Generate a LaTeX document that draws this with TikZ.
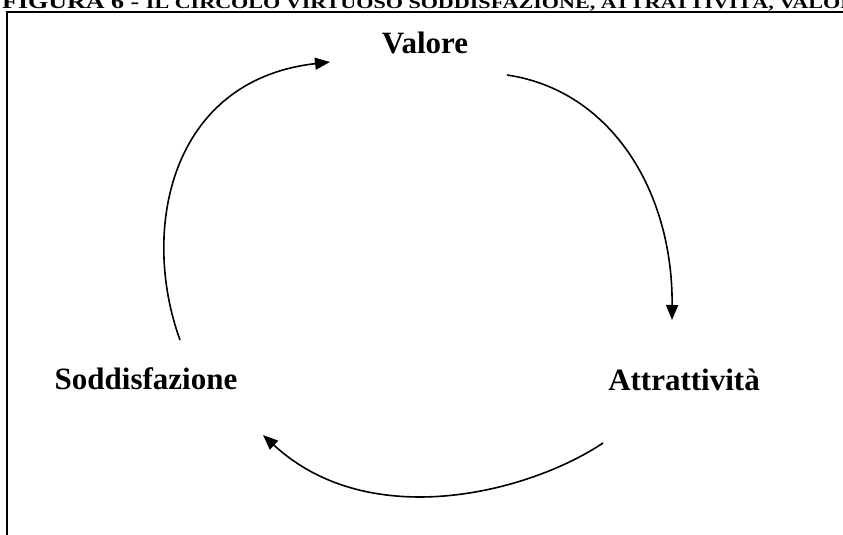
\documentclass[tikz,border=0pt]{standalone}
\usepackage{fontspec}
\setmainfont{Liberation Serif}
\usetikzlibrary{arrows.meta}
\begin{document}
\begin{tikzpicture}[x=1pt,y=1pt,
  label/.style={font=\fontsize{31}{36}\selectfont\bfseries, inner sep=0pt, anchor=base},
  cycle/.style={line width=1.6pt, -{Triangle[length=15pt,width=12pt]}}]
\useasboundingbox (0,0) rectangle (843,-535);
\clip (0,0) rectangle (843,-535);

% caption line, its upper half running past the page top
\node[anchor=base west, inner sep=0pt, font=\bfseries] (caption) at (2,-9)
  {\scalebox{1.3}[1]{\fontsize{20}{24}\selectfont FIGURA 6 - \fontsize{17}{20}\selectfont IL CIRCOLO VIRTUOSO SODDISFAZIONE, ATTRATTIVITÀ, VALORE}};

% frame
\draw[line width=1.6pt] (860,-12) -- (7,-12) -- (7,-550);

% the three stages
\node[label] (valore) at (425,-54) {Valore};
\node[label] (soddisfazione) at (146,-389) {Soddisfazione};
\node[label] (attrattivita) at (684,-390) {Attrattività};

% arc end points
\coordinate (v-out) at (507,-75);
\coordinate (a-in)  at (672,-320);
\coordinate (a-out) at (603,-443);
\coordinate (s-in)  at (263,-435);
\coordinate (s-out) at (180,-340);
\coordinate (v-in)  at (330,-62);

\draw[cycle] (v-out) .. controls (610,-90) and (673,-190) .. (a-in);
\draw[cycle] (a-out) .. controls (530,-492) and (370,-534) .. (s-in);
\draw[cycle] (s-out) .. controls (140,-230) and (170,-80) .. (v-in);
\end{tikzpicture}
\end{document}
